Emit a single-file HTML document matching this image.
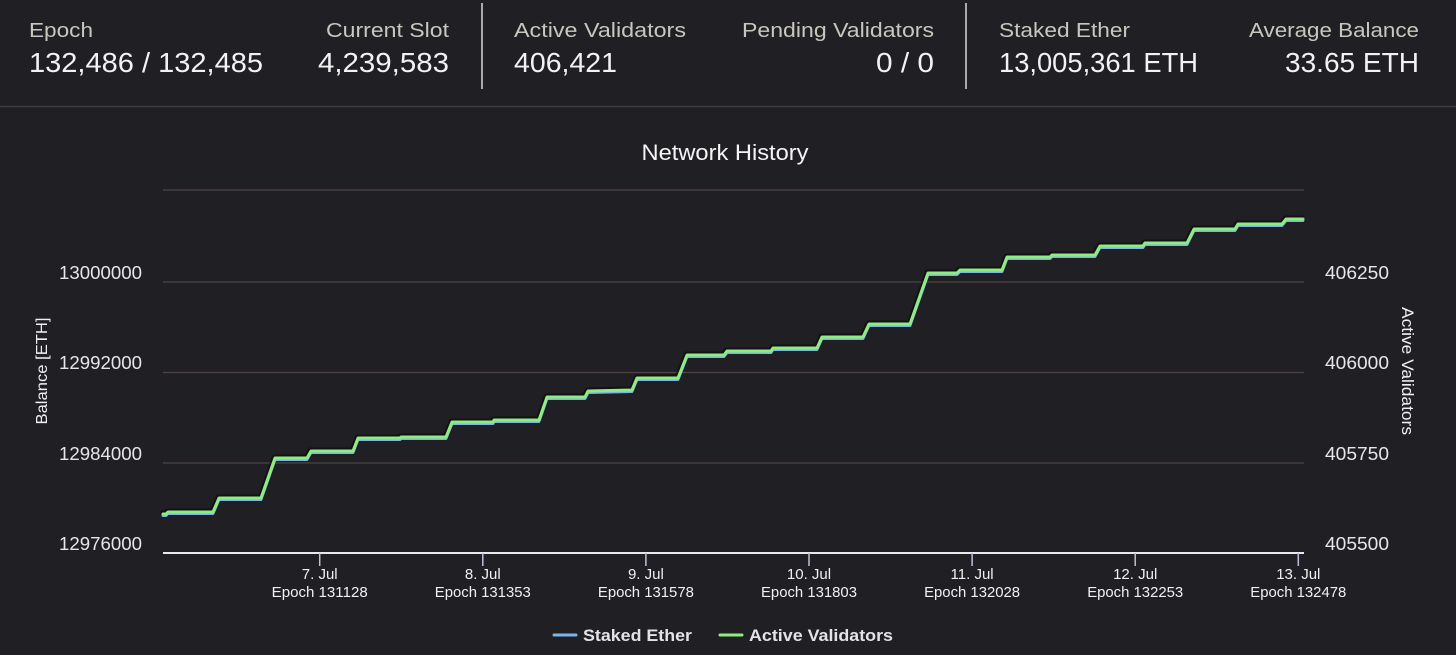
<!DOCTYPE html>
<html>
<head>
<meta charset="utf-8">
<style>
html,body{margin:0;padding:0;background:#201f24;}
body{width:1456px;height:655px;overflow:hidden;}
svg{display:block;}
text{font-family:"Liberation Sans",Arial,sans-serif;}
</style>
</head>
<body>
<svg width="1456" height="655" viewBox="0 0 1456 655" xmlns="http://www.w3.org/2000/svg">
  <rect x="0" y="0" width="1456" height="655" fill="#201f24"/>

  <!-- Header labels -->
  <g font-size="20" fill="#c9c7bd">
    <text x="29" y="37" textLength="64" lengthAdjust="spacingAndGlyphs">Epoch</text>
    <text x="449" y="37" text-anchor="end" textLength="123" lengthAdjust="spacingAndGlyphs">Current Slot</text>
    <text x="514" y="37" textLength="172" lengthAdjust="spacingAndGlyphs">Active Validators</text>
    <text x="934" y="37" text-anchor="end" textLength="192" lengthAdjust="spacingAndGlyphs">Pending Validators</text>
    <text x="999" y="37" textLength="131" lengthAdjust="spacingAndGlyphs">Staked Ether</text>
    <text x="1419" y="37" text-anchor="end" textLength="170" lengthAdjust="spacingAndGlyphs">Average Balance</text>
  </g>
  <g font-size="28" fill="#f2f2f2">
    <text x="29" y="72" textLength="234" lengthAdjust="spacingAndGlyphs">132,486 / 132,485</text>
    <text x="449" y="72" text-anchor="end" textLength="131" lengthAdjust="spacingAndGlyphs">4,239,583</text>
    <text x="514" y="72" textLength="103" lengthAdjust="spacingAndGlyphs">406,421</text>
    <text x="934" y="72" text-anchor="end" textLength="58" lengthAdjust="spacingAndGlyphs">0 / 0</text>
    <text x="999" y="72" textLength="199" lengthAdjust="spacingAndGlyphs">13,005,361 ETH</text>
    <text x="1419" y="72" text-anchor="end" textLength="134" lengthAdjust="spacingAndGlyphs">33.65 ETH</text>
  </g>
  <line x1="482" y1="3" x2="482" y2="89" stroke="#d8d8d8" stroke-width="1.5"/>
  <line x1="966" y1="3" x2="966" y2="89" stroke="#d8d8d8" stroke-width="1.5"/>
  <line x1="0" y1="106.5" x2="1456" y2="106.5" stroke="#3d3c41" stroke-width="1.5"/>

  <!-- Title -->
  <text x="725" y="160" font-size="22" fill="#f5f5f5" text-anchor="middle" textLength="167" lengthAdjust="spacingAndGlyphs">Network History</text>

  <!-- Grid -->
  <g stroke="#4d4345" stroke-width="1.2">
    <line x1="163" y1="190" x2="1304" y2="190"/>
    <line x1="163" y1="282" x2="1304" y2="282"/>
    <line x1="163" y1="372.5" x2="1304" y2="372.5"/>
    <line x1="163" y1="463" x2="1304" y2="463"/>
  </g>

  <!-- Left labels -->
  <g font-size="18" fill="#e6e6e8" text-anchor="end">
    <text x="142" y="279" textLength="83" lengthAdjust="spacingAndGlyphs">13000000</text>
    <text x="142" y="369" textLength="83" lengthAdjust="spacingAndGlyphs">12992000</text>
    <text x="142" y="460" textLength="83" lengthAdjust="spacingAndGlyphs">12984000</text>
    <text x="142" y="550" textLength="83" lengthAdjust="spacingAndGlyphs">12976000</text>
  </g>
  <!-- Right labels -->
  <g font-size="18" fill="#e6e6e8">
    <text x="1325" y="279" textLength="64" lengthAdjust="spacingAndGlyphs">406250</text>
    <text x="1325" y="369" textLength="64" lengthAdjust="spacingAndGlyphs">406000</text>
    <text x="1325" y="460" textLength="64" lengthAdjust="spacingAndGlyphs">405750</text>
    <text x="1325" y="550" textLength="64" lengthAdjust="spacingAndGlyphs">405500</text>
  </g>

  <!-- Axis titles -->
  <text transform="translate(47,371) rotate(-90)" font-size="16" fill="#f0f0f0" text-anchor="middle" textLength="107" lengthAdjust="spacingAndGlyphs">Balance [ETH]</text>
  <text transform="translate(1402,371) rotate(90)" font-size="16.5" fill="#f0f0f0" text-anchor="middle" textLength="128" lengthAdjust="spacingAndGlyphs">Active Validators</text>

  <!-- X axis -->
  <line x1="163" y1="553" x2="1304" y2="553" stroke="#e8e8e8" stroke-width="2"/>
  <g stroke="#b9c3d8" stroke-width="1.5">
    <line x1="319.7" y1="553" x2="319.7" y2="566"/>
    <line x1="482.8" y1="553" x2="482.8" y2="566"/>
    <line x1="645.9" y1="553" x2="645.9" y2="566"/>
    <line x1="809" y1="553" x2="809" y2="566"/>
    <line x1="972.1" y1="553" x2="972.1" y2="566"/>
    <line x1="1135.2" y1="553" x2="1135.2" y2="566"/>
    <line x1="1298.3" y1="553" x2="1298.3" y2="566"/>
  </g>
  <g font-size="15" fill="#f0f0f0" text-anchor="middle">
    <text x="319.7" y="579">7. Jul</text>
    <text x="319.7" y="597" textLength="96" lengthAdjust="spacingAndGlyphs">Epoch 131128</text>
    <text x="482.8" y="579">8. Jul</text>
    <text x="482.8" y="597" textLength="96" lengthAdjust="spacingAndGlyphs">Epoch 131353</text>
    <text x="645.9" y="579">9. Jul</text>
    <text x="645.9" y="597" textLength="96" lengthAdjust="spacingAndGlyphs">Epoch 131578</text>
    <text x="809" y="579">10. Jul</text>
    <text x="809" y="597" textLength="96" lengthAdjust="spacingAndGlyphs">Epoch 131803</text>
    <text x="972.1" y="579">11. Jul</text>
    <text x="972.1" y="597" textLength="96" lengthAdjust="spacingAndGlyphs">Epoch 132028</text>
    <text x="1135.2" y="579">12. Jul</text>
    <text x="1135.2" y="597" textLength="96" lengthAdjust="spacingAndGlyphs">Epoch 132253</text>
    <text x="1298.3" y="579">13. Jul</text>
    <text x="1298.3" y="597" textLength="96" lengthAdjust="spacingAndGlyphs">Epoch 132478</text>
  </g>

  <!-- Series -->
  <defs>
    <polyline id="series" points="163,514 166,514 168,512 213,512 219,498 261,498 275,458 307,458 311,451 353,451 358,438 400,438 401,437 446,437 452,422 493,422 494,420 539,420 547,397 585,397 588,391 632,390 637,378 678,378 687,355 724,355 727,351 771,351 773,348 817,348 822,337 863,337 869,324 910,324 928,273 957,273 960,270 1002,270 1007,257 1050,257 1052,255 1095,255 1100,246 1143,246 1145,243 1187,243 1194,229 1235,229 1238,224 1282,224 1286,219 1303,219"/>
  </defs>
  <use href="#series" transform="translate(-1,-1.5)" fill="none" stroke="#0d0c10" stroke-opacity="0.7" stroke-width="4" stroke-linejoin="round" stroke-linecap="round"/>
  <use href="#series" transform="translate(0,1.6)" fill="none" stroke="#7cb5ec" stroke-width="2.8" stroke-linejoin="round" stroke-linecap="round"/>
  <use href="#series" fill="none" stroke="#90ed7d" stroke-width="3" stroke-linejoin="round" stroke-linecap="round"/>

  <!-- Legend -->
  <line x1="554" y1="635" x2="576" y2="635" stroke="#7cb5ec" stroke-width="3" stroke-linecap="round"/>
  <text x="583" y="641" font-size="17" font-weight="bold" fill="#e3e3e6" textLength="109" lengthAdjust="spacingAndGlyphs">Staked Ether</text>
  <line x1="720" y1="635" x2="742" y2="635" stroke="#90ed7d" stroke-width="3" stroke-linecap="round"/>
  <text x="749" y="641" font-size="17" font-weight="bold" fill="#e3e3e6" textLength="144" lengthAdjust="spacingAndGlyphs">Active Validators</text>
</svg>
</body>
</html>
